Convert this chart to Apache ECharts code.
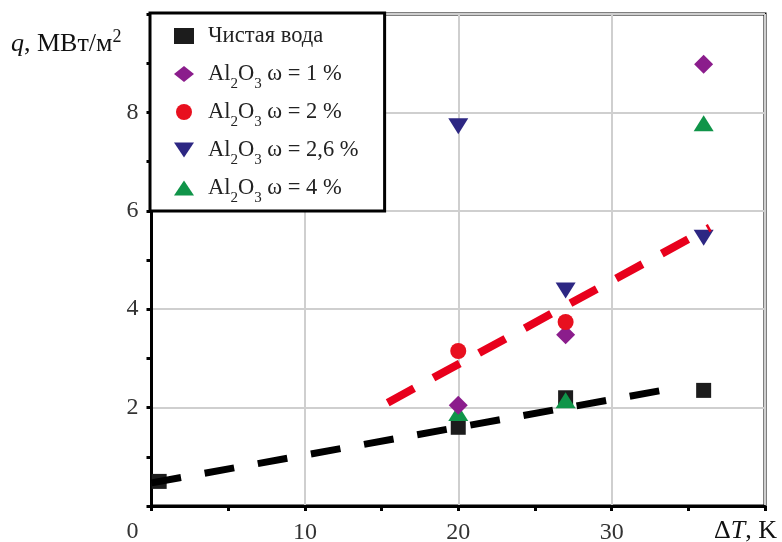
<!DOCTYPE html>
<html><head><meta charset="utf-8">
<script src="https://cdn.jsdelivr.net/npm/echarts@6/dist/echarts.min.js"></script>
<style>html,body{margin:0;padding:0;background:#fff}#c{width:782px;height:542px}</style>
</head><body><div id="c"></div>
<script>
// ---- data ----
const seriesNames = ['Чистая вода', 'Al2O3 ω = 1 %', 'Al2O3 ω = 2 %', 'Al2O3 ω = 2,6 %', 'Al2O3 ω = 4 %'];
const water = [[0.5, 0.5], [20, 1.6], [27, 2.2], [36, 2.35]];
const al1 = [[20, 2.05], [27, 3.48], [36, 8.98]];
const al2 = [[20, 3.15], [27, 3.74]];
const al26 = [[20, 7.72], [27, 4.38], [36, 5.45]];
const al4 = [[20, 1.89], [27, 2.15], [36, 7.78]];
const fitWater = [[0, 0.47], [34, 2.39]];
const fitNano = [[15.4, 2.1], [36.4, 5.66]];
const xLabels = ['0', '10', '20', '30'];
const yLabels = ['2', '4', '6', '8'];

const FONT = 'Liberation Serif';
const downTri = 'path://M0,0L20,0L10,15Z';
const upTri = 'path://M10,0L20,15L0,15Z';

const chart = echarts.init(document.getElementById('c'), null, {renderer: 'canvas'});
chart.setOption({
  backgroundColor: '#fff',
  animation: false,
  grid: {left: 151.5, right: 17, top: 14, bottom: 36, containLabel: false, outerBoundsMode: 'none',
         show: true, borderColor: '#000', borderWidth: 3, backgroundColor: 'transparent'},
  xAxis: {
    type: 'value', min: 0, max: 40, interval: 10,
    axisLine: {lineStyle: {color: '#000', width: 3}},
    axisTick: {show: true, inside: false, length: 5, lineStyle: {color: '#000', width: 3}},
    minorTick: {show: true, splitNumber: 2, length: 5, lineStyle: {color: '#000', width: 3}},
    splitLine: {show: true, lineStyle: {color: '#cfcfcf', width: 2}},
    axisLabel: {
      fontFamily: FONT, fontSize: 24, color: '#333', margin: 15,
      formatter: v => (xLabels.indexOf(String(v)) >= 0 && v !== 0) ? String(v) : ''
    }
  },
  yAxis: {
    type: 'value', min: 0, max: 10, interval: 2,
    axisLine: {lineStyle: {color: '#000', width: 3}},
    axisTick: {show: true, inside: false, length: 5, lineStyle: {color: '#000', width: 3}},
    minorTick: {show: true, splitNumber: 2, length: 5, lineStyle: {color: '#000', width: 3}},
    splitLine: {show: true, lineStyle: {color: '#cfcfcf', width: 2}},
    axisLabel: {
      fontFamily: FONT, fontSize: 24, color: '#333', margin: 13,
      formatter: v => v === 0 ? '{z|' + xLabels[0] + '}' : (yLabels.indexOf(String(v)) >= 0 ? String(v) : ''),
      rich: {z: {fontFamily: FONT, fontSize: 24, color: '#333', padding: [52, 0, 0, 0]}}
    }
  },
  legend: {
    orient: 'vertical', left: 150, top: 13,
    itemWidth: 20, itemHeight: 16, itemGap: 2,
    padding: [5, 26, 5, 24],
    borderColor: '#000', borderWidth: 3, backgroundColor: '#fff',
    textStyle: {
      fontFamily: FONT, fontSize: 22.5, color: '#222', lineHeight: 36, padding: [0, 0, 0, 9],
      rich: {sub: {fontFamily: FONT, fontSize: 15, color: '#222', lineHeight: 15, verticalAlign: 'bottom'}}
    },
    formatter: n => n.replace('Al2O3', 'Al{sub|2}O{sub|3}'),
    data: seriesNames
  },
  graphic: [
    {type: 'text', x: 11, y: 44, style: {
      text: '{i|q}, МВт/м{sup|2}', fontFamily: FONT, fontSize: 26, fill: '#111', verticalAlign: 'middle',
      rich: {i: {fontFamily: FONT, fontSize: 26, fontStyle: 'italic', fill: '#111'},
             sup: {fontFamily: FONT, fontSize: 18, fill: '#111', padding: [0, 0, 14, 0]}}
    }},
    {type: 'text', x: 714, y: 531, style: {
      text: 'Δ{i|T}, K', fontFamily: FONT, fontSize: 26, fill: '#111', verticalAlign: 'middle',
      rich: {i: {fontFamily: FONT, fontSize: 26, fontStyle: 'italic', fill: '#111'}}
    }}
  ],
  series: [
    {name: seriesNames[0], type: 'scatter', data: water, symbol: 'rect', symbolSize: 15, z: 2, itemStyle: {color: '#1c1c1c', opacity: 1}},
    {name: seriesNames[1], type: 'scatter', data: al1, symbol: 'diamond', symbolSize: [19, 19], z: 4, itemStyle: {color: '#8b1d8c', opacity: 1}},
    {name: seriesNames[2], type: 'scatter', data: al2, symbol: 'circle', symbolSize: 16, z: 4, itemStyle: {color: '#e8101f', opacity: 1}},
    {name: seriesNames[3], type: 'scatter', data: al26, symbol: downTri, symbolSize: [20, 16], z: 4, itemStyle: {color: '#2d2783', opacity: 1}},
    {name: seriesNames[4], type: 'scatter', data: al4, symbol: upTri, symbolSize: [20, 16], z: 3, itemStyle: {color: '#109449', opacity: 1}},
    {name: 'fitWater', type: 'line', data: fitWater, symbol: 'none', z: 5, silent: true,
      lineStyle: {color: '#000', width: 7, type: [30, 24]}},
    {name: 'fitNano', type: 'line', data: fitNano, symbol: 'none', z: 5, silent: true,
      lineStyle: {color: '#e8001c', width: 8, type: [30, 22]}}
  ]
});
</script></body></html>
